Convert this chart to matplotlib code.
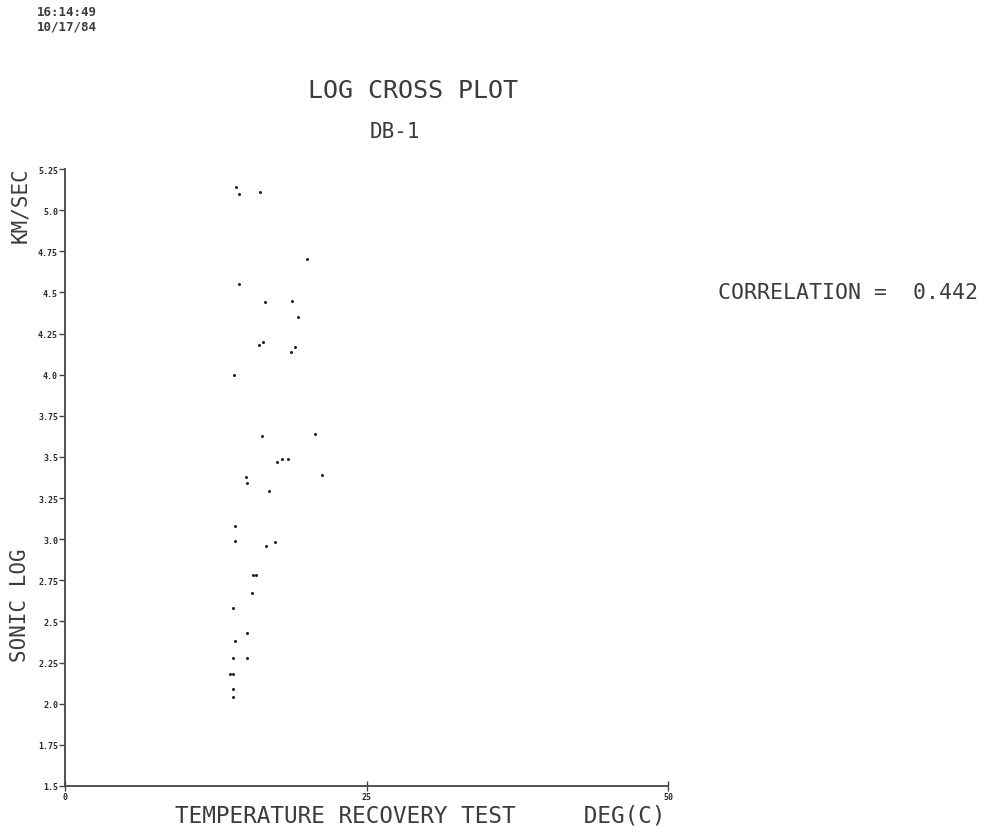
"""
Log cross plot: sonic log vs temperature recovery test (DB-1).
"""

import matplotlib
matplotlib.use("Agg")
import matplotlib.pyplot as plt

# temperature recovery test, deg C
temp = [14.2, 14.4, 16.2, 20.1, 14.4, 16.6, 18.8, 19.3, 16.4, 16.1, 19.1, 18.7,
        14.0, 16.3, 20.7, 17.6, 18.0, 18.5, 15.0, 15.1, 21.3, 16.9, 14.1, 14.1,
        16.7, 17.4, 15.55, 15.85, 15.5, 13.9, 15.1, 14.1, 13.9, 15.1, 13.7, 13.9,
        13.9, 13.9]
# sonic log, km/sec
sonic = [5.14, 5.10, 5.11, 4.70, 4.55, 4.44, 4.45, 4.35, 4.20, 4.18, 4.17, 4.14,
         4.00, 3.63, 3.64, 3.47, 3.49, 3.49, 3.38, 3.34, 3.39, 3.29, 3.08, 2.99,
         2.96, 2.98, 2.78, 2.78, 2.67, 2.58, 2.43, 2.38, 2.28, 2.28, 2.18, 2.18,
         2.09, 2.04]

y_ticks = [1.5, 1.75, 2.0, 2.25, 2.5, 2.75, 3.0, 3.25, 3.5, 3.75, 4.0, 4.25,
           4.5, 4.75, 5.0, 5.25]
y_labels = ["1.5", "1.75", "2.0", "2.25", "2.5", "2.75", "3.0", "3.25", "3.5",
            "3.75", "4.0", "4.25", "4.5", "4.75", "5.0", "5.25"]
x_ticks = [0, 25, 50]
x_labels = ["0", "25", "50"]

correlation = 0.442

W, H = 988, 837
ink = "#3c3c3c"
mono = "DejaVu Sans Mono"

fig = plt.figure(figsize=(W / 100, H / 100), dpi=100)
fig.patch.set_facecolor("white")

# axes box in pixel terms: left 65, right 668, top 170, bottom 787
ax = fig.add_axes([65 / W, 1 - 787 / H, 603 / W, (787 - 170) / H])
ax.plot(temp, sonic, "o", ms=2.2, color="#222222", mec="none")

ax.set_xlim(0, 50)
ax.set_ylim(1.5, 5.25)
for side in ["top", "right"]:
    ax.spines[side].set_visible(False)
for side in ["left", "bottom"]:
    ax.spines[side].set_color("#444444")
    ax.spines[side].set_linewidth(1.3)

ax.set_yticks(y_ticks)
ax.set_yticklabels(y_labels, fontfamily=mono, fontweight="bold", fontsize=6)
ax.set_xticks(x_ticks)
ax.set_xticklabels(x_labels, fontfamily=mono, fontweight="bold", fontsize=6)
ax.tick_params(axis="y", direction="out", length=4, width=1, pad=1, colors="#444444")
ax.tick_params(axis="x", direction="inout", length=7, width=1, pad=1, colors="#444444")
for lbl in ax.get_xticklabels() + ax.get_yticklabels():
    lbl.set_color("#2a2a2a")


def px_text(x, y, s, **kw):
    fig.text(x / W, 1 - y / H, s, fontfamily=mono, color=ink, **kw)


px_text(37, 13, "16:14:49", fontsize=9, fontweight="bold", va="center")
px_text(37, 27, "10/17/84", fontsize=9, fontweight="bold", va="center")

px_text(308, 91, "LOG CROSS PLOT", fontsize=18, va="center")
px_text(395, 132, "DB-1", fontsize=15, ha="center", va="center")

px_text(175, 816, "TEMPERATURE RECOVERY TEST     DEG(C)", fontsize=16.3, va="center")
px_text(20, 205, "KM/SEC", fontsize=15, rotation=90, ha="center", va="center")
px_text(20, 605, "SONIC LOG", fontsize=15, rotation=90, ha="center", va="center")
px_text(718, 293, f"CORRELATION =  {correlation:.3f}", fontsize=15.5, va="center")

fig.savefig("out.png", dpi=100, facecolor="white")
